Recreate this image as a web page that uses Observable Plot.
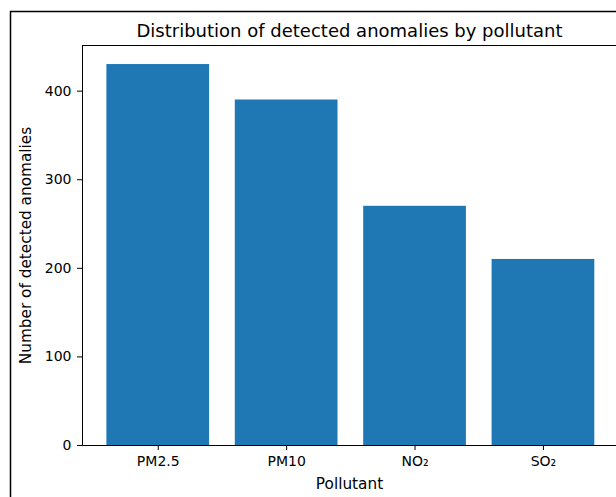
<!DOCTYPE html>
<html>
<head>
<meta charset="utf-8">
<script src="https://cdn.jsdelivr.net/npm/d3@7"></script>
<script src="https://cdn.jsdelivr.net/npm/@observablehq/plot@0.6"></script>
<style>
  html, body { margin: 0; padding: 0; background: white; }
</style>
</head>
<body>
<div id="chart"></div>
<script>
const pollutants = ["PM2.5", "PM10", "NO₂", "SO₂"];
const anomalies = [430, 390, 270, 210];
const yTicks = [0, 100, 200, 300, 400];
const titleText = "Distribution of detected anomalies by pollutant";
const xLabel = "Pollutant";
const yLabel = "Number of detected anomalies";

const xDomain = [-0.59, 3.59];
const yDomain = [0, 451.5];

const data = pollutants.map((p, i) => ({ p, i, v: anomalies[i] }));

const chart = Plot.plot({
  width: 616,
  height: 497,
  marginLeft: 82,
  marginRight: 0,
  marginTop: 45,
  marginBottom: 52,
  style: { fontFamily: "DejaVu Sans", fontSize: "14px", color: "black", background: "white" },
  x: { type: "linear", domain: xDomain, range: [82, 618.7] },
  y: { domain: yDomain, range: [445, 45] },
  marks: [
    Plot.rectY(data, { x1: d => d.i - 0.4, x2: d => d.i + 0.4, y1: 0, y2: "v", fill: "#1f77b4" }),
    Plot.ruleY([yDomain[0]], { stroke: "black", strokeWidth: 1 }),
    Plot.ruleY([yDomain[1]], { stroke: "black", strokeWidth: 1 }),
    Plot.ruleX([xDomain[0]], { stroke: "black", strokeWidth: 1 }),
    Plot.axisX({
      ticks: pollutants.map((_, i) => i),
      tickFormat: i => pollutants[i],
      tickSize: 5, tickPadding: 6, label: null
    }),
    Plot.axisX({
      ticks: [], tickSize: 0,
      label: xLabel, labelAnchor: "center", labelOffset: 43, labelArrow: "none", fontSize: 15.3
    }),
    Plot.axisY({
      ticks: yTicks,
      tickSize: 5, tickPadding: 6, label: null
    }),
    Plot.axisY({
      ticks: [], tickSize: 0,
      label: yLabel, labelAnchor: "center", labelOffset: 62, labelArrow: "none", fontSize: 15.3
    }),
    Plot.text([titleText], { frameAnchor: "top", dy: -9, lineAnchor: "bottom", fontSize: 18 })
  ]
});

d3.select(chart).append("path")
  .attr("d", "M10.5,497V11.5H616")
  .attr("fill", "none")
  .attr("stroke", "black")
  .attr("stroke-width", 1.5);

document.getElementById("chart").appendChild(chart);
</script>
</body>
</html>
